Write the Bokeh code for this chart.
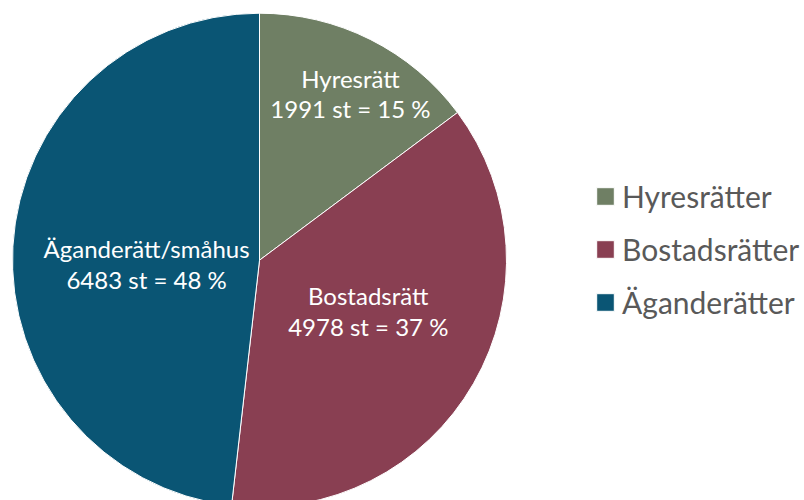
import math
from bokeh.plotting import figure
from bokeh.models import ColumnDataSource, Range1d, Legend, LegendItem
from bokeh.core.properties import value
from bokeh.embed import file_html
from bokeh.resources import INLINE

# --- data ---
legend_labels = ["Hyresrätter", "Bostadsrätter", "Äganderätter"]
slice_names = ["Hyresrätt", "Bostadsrätt", "Äganderätt/småhus"]
counts = [1991, 4978, 6483]
percents = [15, 37, 48]
colors = ["#6F7F64", "#893F52", "#0A5574"]

# --- layout (pixels) ---
W, H = 804, 500
cx, cy = 259, 240.3
R = 247
label_angle_deg = [28.6, 115.0, 268.0]   # clockwise from 12 o'clock
label_r = [190, 120, 113]

total = float(sum(counts))
starts, ends = [], []
acc = 0.0
for c in counts:
    a0 = acc / total
    acc += c
    a1 = acc / total
    starts.append(math.pi / 2 - a0 * 2 * math.pi)
    ends.append(math.pi / 2 - a1 * 2 * math.pi)

src = ColumnDataSource(dict(
    x=[cx] * len(counts), y=[cy] * len(counts),
    start=starts, end=ends, color=colors, name=legend_labels,
))

p = figure(width=W, height=H, output_backend="svg", toolbar_location=None,
           x_range=Range1d(0, W), y_range=Range1d(0, H), min_border=0)
p.axis.visible = False
p.grid.visible = False
p.outline_line_color = None
p.background_fill_color = "white"
p.border_fill_color = "white"

r = p.wedge(x="x", y="y", radius=R, start_angle="start", end_angle="end",
            direction="clock", fill_color="color", line_color="white",
            line_width=1, source=src)

lx, ly, lt = [], [], []
for name, c, pc, ang, rr in zip(slice_names, counts, percents, label_angle_deg, label_r):
    a = math.radians(ang)
    lx.append(cx + rr * math.sin(a))
    ly.append(cy + rr * math.cos(a))
    lt.append(f"{name}\n{c} st = {pc} %")

p.text(x=lx, y=ly, text=lt, text_color="white", text_align="center",
       text_baseline="middle", text_font=value("Lato"), text_font_size="24px",
       text_line_height=1.06)

legend = Legend(
    items=[LegendItem(label=lab, renderers=[r], index=i) for i, lab in enumerate(legend_labels)],
    location=(594, 180), orientation="vertical",
    glyph_width=22, glyph_height=22, label_standoff=6, spacing=17,
    padding=0, margin=0, border_line_color=None, background_fill_alpha=0,
    label_text_font="Lato", label_text_font_size="30px", label_text_color="#595959",
)
p.add_layout(legend, "center")

open("out.html", "w").write(file_html(p, INLINE))
